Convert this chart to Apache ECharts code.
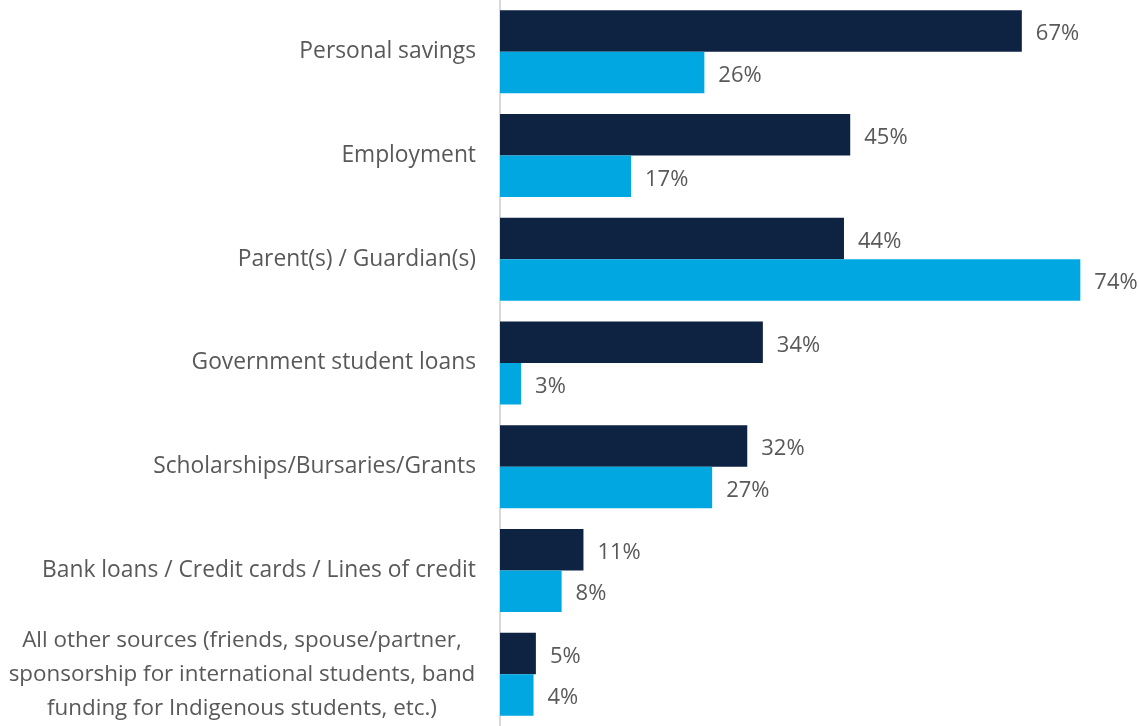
<!DOCTYPE html>
<html>
<head>
<meta charset="utf-8">
<script src="https://cdn.jsdelivr.net/npm/echarts@6/dist/echarts.min.js"></script>
<style>
  html, body { margin: 0; padding: 0; background: #fff; }
  #chart { width: 1140px; height: 726px; }
</style>
</head>
<body>
<div id="chart"></div>
<script>
// categories, top to bottom
var categories = [
  'Personal savings',
  'Employment',
  'Parent(s) / Guardian(s)',
  'Government student loans',
  'Scholarships/Bursaries/Grants',
  'Bank loans / Credit cards / Lines of credit',
  'All other sources (friends, spouse/partner,\nsponsorship for international students, band\nfunding for Indigenous students, etc.)'
];
// dark series (first bar of each pair)
var seriesA = [66.9, 44.9, 44.1, 33.7, 31.7, 10.7, 4.6];
// light blue series (second bar)
var seriesB = [26.2, 16.8, 74.4, 2.7, 27.2, 7.9, 4.3];

var chart = echarts.init(document.getElementById('chart'));
var fontFam = '"Open Sans", "Noto Sans", sans-serif';

var valueLabel = {
  show: true,
  position: 'right',
  distance: 14,
  offset: [0, 3],
  color: '#595959',
  fontSize: 22,
  fontFamily: fontFam,
  formatter: function (p) { return Math.round(p.value) + '%'; }
};

var option = {
  animation: false,
  grid: { left: 500, top: 0, bottom: 0, width: 624, containLabel: false },
  xAxis: {
    type: 'value',
    min: 0,
    max: 80,
    show: false
  },
  yAxis: {
    type: 'category',
    inverse: true,
    data: categories,
    axisLine: { show: true, lineStyle: { color: '#d9d9d9', width: 2 } },
    axisTick: { show: false },
    axisLabel: {
      margin: 24,
      color: '#595959',
      fontSize: 22.8,
      fontFamily: fontFam,
      formatter: function (v) {
        if (v.indexOf('\n') < 0) return v;
        return v.split('\n').map(function (s) { return '{c|' + s + '}'; }).join('\n');
      },
      rich: {
        c: { width: 468, align: 'center', fontSize: 22.4, lineHeight: 34, color: '#595959', fontFamily: fontFam }
      }
    }
  },
  series: [
    {
      type: 'bar',
      data: seriesA,
      barGap: '0%',
      barCategoryGap: '20%',
      itemStyle: { color: '#0e2242' },
      label: valueLabel
    },
    {
      type: 'bar',
      data: seriesB,
      barGap: '0%',
      barCategoryGap: '20%',
      itemStyle: { color: '#00a7e1' },
      label: valueLabel
    }
  ]
};

chart.setOption(option);
</script>
</body>
</html>
